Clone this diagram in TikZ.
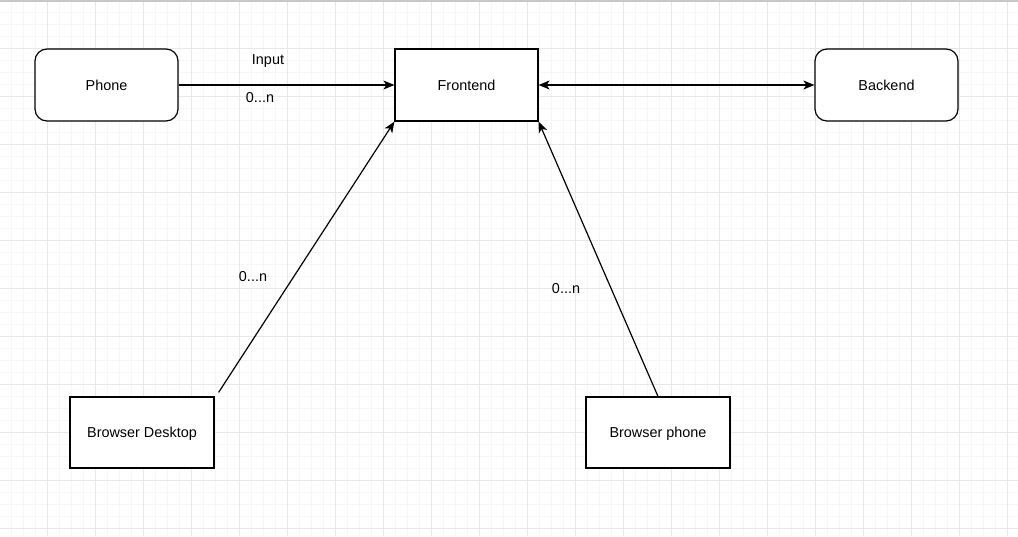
\documentclass[tikz,border=0pt]{standalone}
\usepackage{fontspec}
\setmainfont{Liberation Sans}
\usetikzlibrary{arrows.meta,calc}
\definecolor{minorgrid}{HTML}{F6F6F6}
\definecolor{majorgrid}{HTML}{E8E8E8}
\definecolor{topline}{HTML}{C8C8C8}
\tikzset{
  box/.style={draw=black, line width=1.2pt, fill=white, minimum width=143pt, minimum height=72pt, inner sep=0pt, text depth=-1.5pt, font=\fontsize{14.4}{17}\selectfont},
  roundbox/.style={box, rounded corners=12pt},
  conn/.style={line width=1.2pt, -{Stealth[length=11pt,width=9pt,inset=3pt]}},
  biconn/.style={line width=1.2pt, {Stealth[length=11pt,width=9pt,inset=3pt]}-{Stealth[length=11pt,width=9pt,inset=3pt]}},
  lbl/.style={font=\fontsize{14.4}{17}\selectfont, inner sep=0pt}
}
\begin{document}
\begin{tikzpicture}[x=1pt,y=-1pt]
\useasboundingbox (0,0) rectangle (1018,536);
\fill[white] (0,0) rectangle (1018,536);
% minor grid
\foreach \x in {11,23,...,1018} \draw[minorgrid, line width=0.9pt] (\x,0) -- (\x,536);
\foreach \y in {12,24,...,536} \draw[minorgrid, line width=0.9pt] (0,\y) -- (1018,\y);
% major grid
\foreach \x in {47,95,...,1018} \draw[majorgrid, line width=1pt] (\x,0) -- (\x,536);
\foreach \y in {48,96,...,536} \draw[majorgrid, line width=1pt] (0,\y) -- (1018,\y);
\fill[topline] (0,0) rectangle (1018,1.5);

\node[roundbox] (phone) at (106.5,85) {Phone};
\node[box] (front) at (466.5,85) {Frontend};
\node[roundbox] (back) at (886.5,85) {Backend};
\node[box, minimum width=144pt, minimum height=71pt] (desk) at (142,432.5) {Browser Desktop};
\node[box, minimum width=144pt, minimum height=71pt] (bphone) at (658,432.5) {Browser phone};

\coordinate (deskstart) at ($(desk.north east)+(4,-4)$);

\draw[conn] (phone.east) -- (front.west);
\draw[biconn] (front.east) -- (back.west);
\draw[conn] (deskstart) -- (front.south west);
\draw[conn] (bphone.north) -- (front.south east);

\node[lbl] (lin) at (268,61) {Input};
\node[lbl] (l1) at (260,98) {0...n};
\node[lbl] (l2) at (253,277) {0...n};
\node[lbl] (l3) at (566,289) {0...n};
\end{tikzpicture}
\end{document}
